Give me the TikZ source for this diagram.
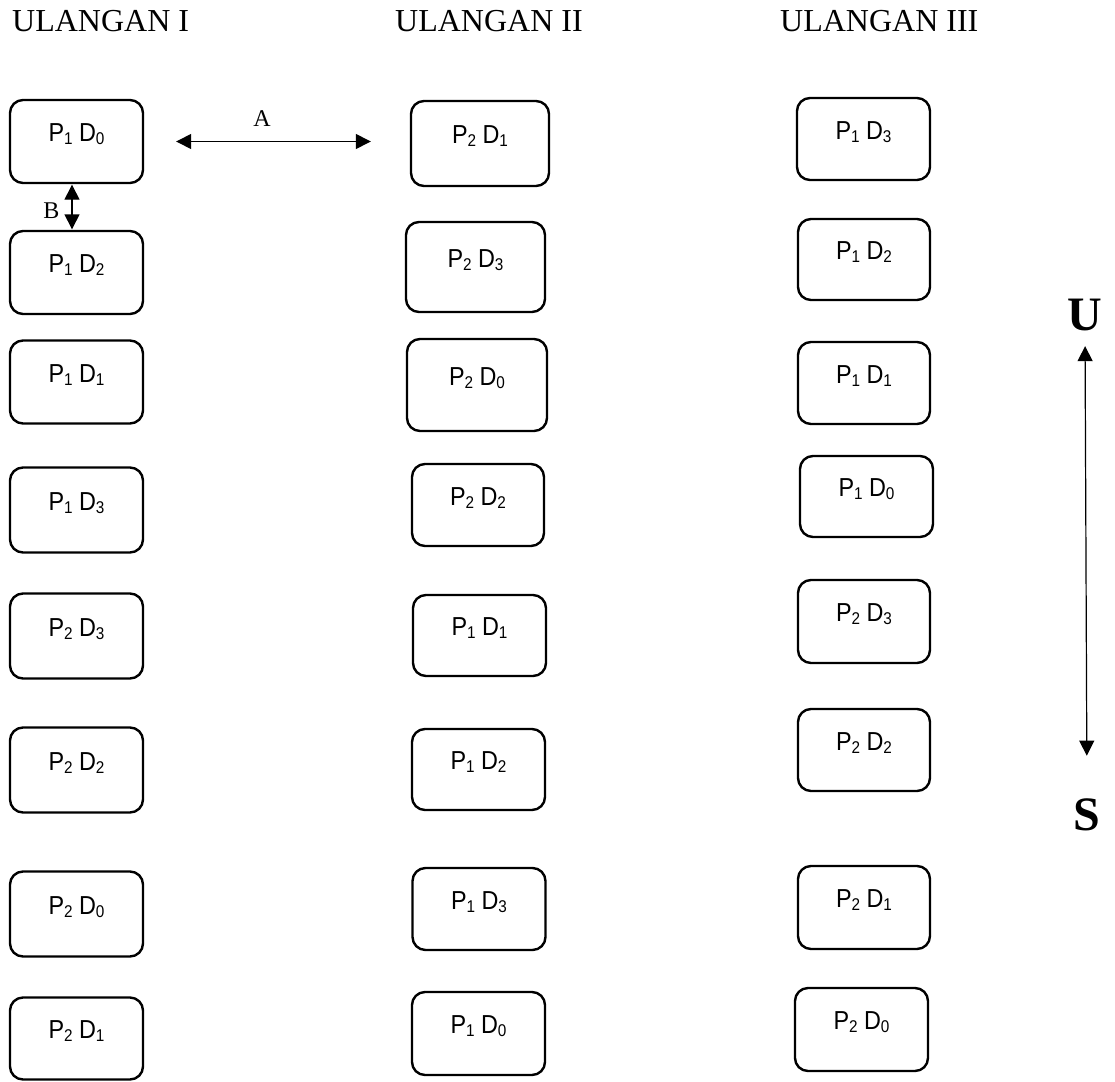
\documentclass[tikz,border=0pt]{standalone}
\usepackage{graphicx}
\usepackage{fontspec}
\setmainfont{Liberation Serif}
\newfontfamily\boxfont{Liberation Sans}
\usetikzlibrary{arrows.meta}

\newcommand{\sbs}[1]{\raisebox{-3pt}{\fontsize{17}{17}\selectfont #1}}
\newcommand{\pdlab}[2]{\scalebox{0.9}[1]{P\sbs{#1}\hspace{7pt}D\sbs{#2}}}

\tikzset{
  cell/.style={draw, line width=2.4pt, rounded corners=13pt, inner sep=0pt,
    minimum width=133pt, minimum height=83pt,
    font=\boxfont\fontsize{26}{30}\selectfont, text height=20pt, text depth=20pt},
  hdr/.style={anchor=base west, inner sep=0pt, font=\fontsize{32}{36}\selectfont},
  tag/.style={anchor=base, inner sep=0pt, font=\fontsize{24}{26}\selectfont},
  dir/.style={inner sep=0pt, font=\bfseries\fontsize{48}{50}\selectfont},
  link/.style={line width=1.4pt, {Triangle[length=15pt,width=15pt]}-{Triangle[length=15pt,width=15pt]}},
}

\begin{document}
\begin{tikzpicture}[x=1pt, y=-1pt]
        \useasboundingbox (0,0) rectangle (1115,1081);
        % headers
        \node[hdr] (h1) at (12,32) {ULANGAN I};
        \node[hdr] (h2) at (395,32) {ULANGAN II};
        \node[hdr] (h3) at (780,32) {ULANGAN III};
        % ulangan I
        \node[cell] (a1) at (76.5,141.5) {\pdlab{1}{0}};
        \node[cell] (a2) at (76.5,272.5) {\pdlab{1}{2}};
        \node[cell] (a3) at (76.5,382) {\pdlab{1}{1}};
        \node[cell, minimum height=85pt] (a4) at (76.5,510) {\pdlab{1}{3}};
        \node[cell, minimum height=85pt] (a5) at (76.5,636) {\pdlab{2}{3}};
        \node[cell, minimum height=85pt] (a6) at (76.5,770) {\pdlab{2}{2}};
        \node[cell, minimum height=85pt] (a7) at (76.5,914) {\pdlab{2}{0}};
        \node[cell, minimum height=82pt] (a8) at (76.5,1038.5) {\pdlab{2}{1}};
        % ulangan II
        \node[cell, minimum width=138pt, minimum height=85pt] (b1) at (480,143.5) {\pdlab{2}{1}};
        \node[cell, minimum width=139pt, minimum height=90pt] (b2) at (475.5,267) {\pdlab{2}{3}};
        \node[cell, minimum width=140pt, minimum height=92pt] (b3) at (477,385) {\pdlab{2}{0}};
        \node[cell, minimum width=132pt, minimum height=82pt] (b4) at (478,505) {\pdlab{2}{2}};
        \node[cell, minimum height=81pt] (b5) at (479.5,635.5) {\pdlab{1}{1}};
        \node[cell, minimum height=81pt] (b6) at (478.5,769.5) {\pdlab{1}{2}};
        \node[cell, minimum height=82pt] (b7) at (479,909) {\pdlab{1}{3}};
        \node[cell] (b8) at (478.5,1033.5) {\pdlab{1}{0}};
        % ulangan III
        \node[cell, minimum height=82pt] (c1) at (863.5,139) {\pdlab{1}{3}};
        \node[cell, minimum width=132pt, minimum height=81pt] (c2) at (864,259.5) {\pdlab{1}{2}};
        \node[cell, minimum width=132pt, minimum height=82pt] (c3) at (864,383) {\pdlab{1}{1}};
        \node[cell, minimum height=81pt] (c4) at (866.5,496.5) {\pdlab{1}{0}};
        \node[cell, minimum width=132pt] (c5) at (864,621.5) {\pdlab{2}{3}};
        \node[cell, minimum width=132pt, minimum height=82pt] (c6) at (864,750) {\pdlab{2}{2}};
        \node[cell, minimum width=132pt] (c7) at (864,907.5) {\pdlab{2}{1}};
        \node[cell] (c8) at (861.5,1029.5) {\pdlab{2}{0}};
        % jarak A dan B
        \draw[link, shorten <=32pt, shorten >=39pt] (a1.east) -- (a1.east -| b1.west);
        \node[tag] (ta) at (262,126) {A};
        \draw[link, shorten <=0.5pt, shorten >=0.5pt] ([xshift=-4.5pt]a1.south) -- ([xshift=-4.5pt]a2.north);
        \node[tag] (tb) at (51.5,218) {B};
        % arah utara - selatan
        \node[dir] (up) at (1085,315) {U};
        \node[dir] (down) at (1087,815) {S};
        \draw[link, line width=1.2pt, shorten <=15pt, shorten >=43pt] (up.south) -- (down.north);
\end{tikzpicture}
\end{document}
